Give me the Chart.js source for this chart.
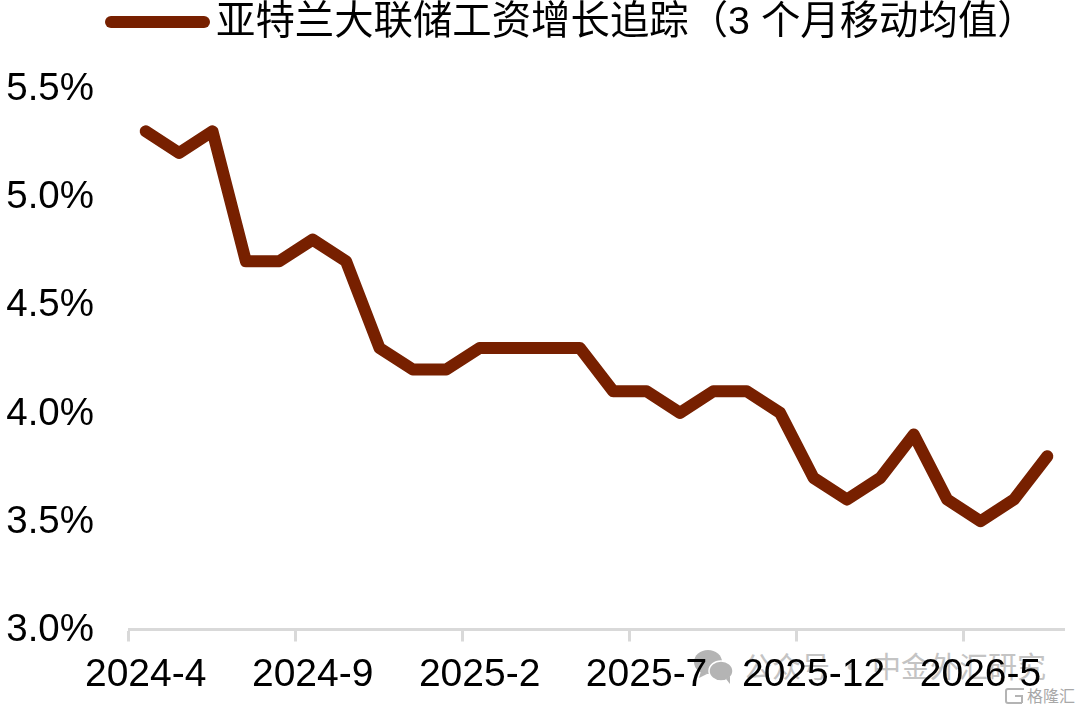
<!DOCTYPE html>
<html>
<head>
<meta charset="utf-8">
<script src="https://cdn.jsdelivr.net/npm/chart.js@4"></script>
<style>
  html, body { margin: 0; padding: 0; background: #fff; }
  #wrap { position: relative; width: 1080px; height: 708px; overflow: hidden; }
  #chart { position: absolute; left: 0; top: 0; }
  /* html legend: the gap between bar and text is tighter than the built-in legend allows */
  #legend-bar { position: absolute; left: 105px; top: 16px; width: 105px; height: 12px; border-radius: 6px; }
  #legend-text { position: absolute; left: 216px; top: 1px; font: 39.4px/1 "Liberation Sans", "Noto Sans CJK SC"; color: #000; white-space: nowrap; }
  /* watermark sits under the transparent canvas */
  .mark { position: absolute; font-family: "Noto Sans CJK SC"; color: #c4c4c4; white-space: nowrap; line-height: 1; }
</style>
</head>
<body>
<div id="wrap">
  <svg class="mark" style="left:693px;top:649px" width="42" height="36" viewBox="0 0 42 36">
    <ellipse cx="15" cy="13" rx="14" ry="12" fill="#b4b4b4"/>
    <path d="M8 22 L6 29 L14 25 Z" fill="#b4b4b4"/>
    <ellipse cx="28" cy="22" rx="12" ry="10" fill="#b4b4b4" stroke="#fff" stroke-width="1.5"/>
    <path d="M33 30 L37 35 L37 27 Z" fill="#b4b4b4"/>
  </svg>
  <div class="mark" style="left:743px;top:651px;font-size:29px;">公众号 · 中金外汇研究</div>
  <svg class="mark" style="left:1004px;top:687px" width="22" height="18" viewBox="0 0 22 18">
    <path d="M20 2 H4 Q2 2 2 4 V14 Q2 16 4 16 H18 M11 9 H18 V16" fill="none" stroke="#b4b4b4" stroke-width="2"/>
  </svg>
  <div class="mark" style="left:1027px;top:687px;font-size:16px;color:#a8a8a8;">格隆汇</div>
  <canvas id="chart" width="1080" height="708"></canvas>
  <div id="legend-bar"></div>
  <div id="legend-text"></div>
</div>
<script>
const LINE_COLOR = '#772000';
const AXIS_COLOR = '#d9d9d9';

const seriesName = '亚特兰大联储工资增长追踪（3 个月移动均值）';
const months = [
  '2024-4', '2024-5', '2024-6', '2024-7', '2024-8', '2024-9', '2024-10',
  '2024-11', '2024-12', '2025-1', '2025-2', '2025-3', '2025-4', '2025-5',
  '2025-6', '2025-7', '2025-8', '2025-9', '2025-10', '2025-11', '2025-12',
  '2026-1', '2026-2', '2026-3', '2026-4', '2026-5', '2026-6', '2026-7'
];
const wageGrowth = [
  5.3, 5.2, 5.3, 4.7, 4.7, 4.8, 4.7,
  4.3, 4.2, 4.2, 4.3, 4.3, 4.3, 4.3,
  4.1, 4.1, 4.0, 4.1, 4.1, 4.0, 3.7,
  3.6, 3.7, 3.9, 3.6, 3.5, 3.6, 3.8
];
const labelEvery = 5; // one label every 5 months

document.getElementById('legend-bar').style.background = LINE_COLOR;
document.getElementById('legend-text').textContent = seriesName;

new Chart(document.getElementById('chart'), {
  type: 'line',
  data: {
    labels: months,
    datasets: [{
      label: seriesName,
      data: wageGrowth,
      borderColor: LINE_COLOR,
      backgroundColor: LINE_COLOR,
      borderWidth: 12,
      borderJoinStyle: 'round',
      borderCapStyle: 'round',
      pointRadius: 0,
      tension: 0
    }]
  },
  options: {
    responsive: false,
    animation: false,
    layout: { padding: { left: 0, right: 16, top: 88, bottom: 0 } },
    plugins: {
      tooltip: { enabled: false },
      legend: { display: false }
    },
    scales: {
      x: {
        offset: true,
        border: { color: AXIS_COLOR, width: 3 },
        grid: {
          offset: true,
          drawOnChartArea: false,
          tickLength: 12,
          tickWidth: 3,
          tickColor: (ctx) => (ctx.index % labelEvery === 0 && ctx.index < months.length) ? AXIS_COLOR : 'transparent'
        },
        ticks: {
          autoSkip: false,
          maxRotation: 0,
          padding: 10,
          color: '#000',
          font: { family: '"Liberation Sans"', size: 39 },
          callback: function (value, index) {
            return index % labelEvery === 0 ? this.getLabelForValue(value) : '';
          }
        },
        afterFit: (scale) => { scale.height = 78.5; }
      },
      y: {
        min: 3.0,
        max: 5.5,
        border: { display: false },
        grid: { display: false, drawTicks: false },
        ticks: {
          stepSize: 0.5,
          padding: 35,
          labelOffset: 1,
          color: '#000',
          font: { family: '"Liberation Sans"', size: 38.5 },
          callback: (value) => value.toFixed(1) + '%'
        },
        afterFit: (scale) => { scale.width = 129; }
      }
    }
  }
});
</script>
</body>
</html>
